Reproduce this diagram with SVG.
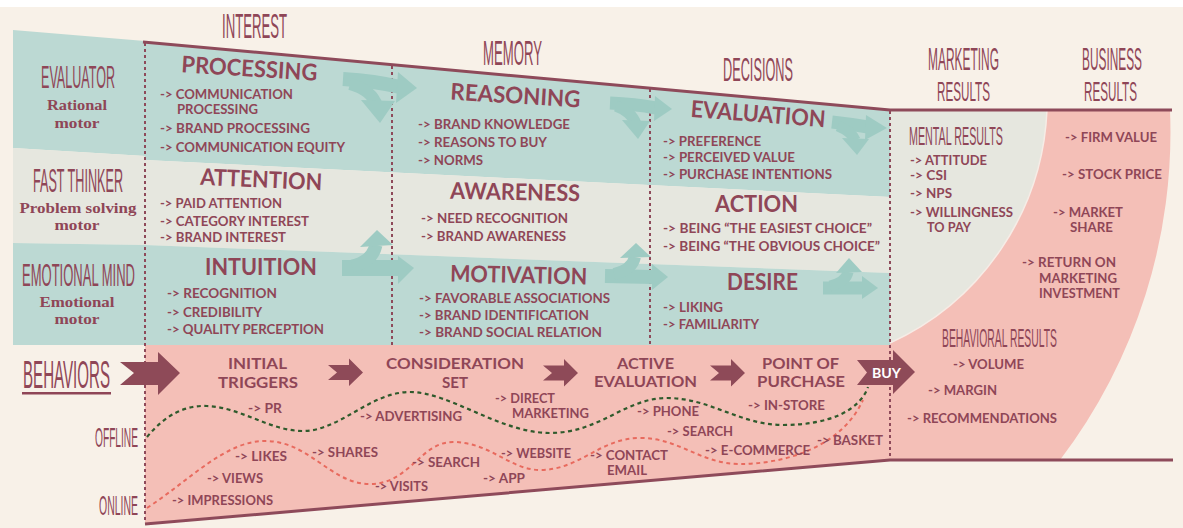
<svg xmlns="http://www.w3.org/2000/svg" width="1183" height="528" viewBox="0 0 1183 528">
<defs>
<style>
.cond{font-family:"Liberation Sans",Arial,sans-serif;fill:#8f4657}
.ser{font-family:"Liberation Serif","DejaVu Serif",serif;font-weight:700;font-size:15.2px;fill:#8f4657;text-anchor:middle}
.hd{font-size:23px}
.it{font-family:Lato,"Open Sans",sans-serif;font-weight:700;font-size:13px;fill:#8f4657}
.rs{font-size:12.5px}
.st{font-family:Lato,"Open Sans",sans-serif;font-weight:700;font-size:15.5px;fill:#8f4657;text-anchor:middle}
.bh{font-family:Lato,"Open Sans",sans-serif;font-weight:700;font-size:12.5px;fill:#8f4657}
.dots{fill:none;stroke:#8e4a5a;stroke-width:2;stroke-dasharray:3 3}
.edge{fill:none;stroke:#8e4a5a;stroke-width:3}
.tband{fill:none;stroke:#9ecbc3}
.thead{fill:#9ecbc3}
.chev{fill:#8e4a58}
.off{fill:none;stroke:#2f5a2c;stroke-width:2.2;stroke-dasharray:4 3.5}
.on{fill:none;stroke:#e86a5e;stroke-width:2;stroke-dasharray:4 3.5}
</style>
<path id="chevron" d="M0,-7.5 L21,-7.5 L21,-14 L35,0 L21,13.5 L21,7.5 L0,7.5 L9,0 Z"/>
<!-- sloped baselines for the tilted stage headings -->
<path id="base-processing" d="M149.2,70.4 L348.8,82.6"/>
<path id="base-reasoning" d="M415.2,97.4 L614.8,109.6"/>
<path id="base-evaluation" d="M657.8,114.15 L857.2,129.85"/>
<path id="base-attention" d="M161.1,183.1 L360.9,191.9"/>
<path id="base-awareness" d="M415,198.25 L615,201.75"/>
<path id="base-motivation" d="M418.5,280.7 L618.5,285.3"/>
</defs>

<!-- background -->
<rect width="1183" height="528" fill="#f8f1e8"/>
<rect width="1183" height="7" fill="#ffffff"/>

<!-- left side bands -->
<polygon points="13,30 145,41 145,156 13,148" fill="#bcd9d3"/>
<polygon points="13,148 145,156 145,245 13,243" fill="#e6e7df"/>
<polygon points="13,243 145,245 145,345 13,345" fill="#bcd9d3"/>

<!-- funnel bands -->
<polygon points="145,42 890,110 890,197 145,160" fill="#bcd9d3"/>
<polygon points="145,160 890,197 890,273 145,245" fill="#e6e7df"/>
<polygon points="145,245 890,273 890,345 145,345" fill="#bcd9d3"/>
<polygon points="145,345 890,345 890,460 145,523" fill="#f4bfb7"/>

<!-- results area -->
<path d="M890,110 L1047,110 A269,269 0 0 1 890,343 Z" fill="#e6e7df"/>
<path d="M1047,110 L1170,110 A541,541 0 0 1 1060,460 L890,460 L890,343 A269,269 0 0 0 1047,110 Z" fill="#f4bfb7"/>
<path d="M1047,110 A269,269 0 0 1 890,343" fill="none" stroke="#f6ece6" stroke-width="1.5"/>

<!-- funnel edges -->
<polyline class="edge" points="143,42 890,110 1172,110"/>
<polyline class="edge" points="145,524 890,460 1173,460"/>

<!-- column separators -->
<g id="separators">
<line class="dots" x1="145" y1="43" x2="145" y2="523"/>
<line class="dots" x1="392" y1="66" x2="392" y2="345"/>
<line class="dots" x1="650" y1="89" x2="650" y2="345"/>
<line class="dots" x1="890" y1="111" x2="890" y2="460"/>
</g>

<!-- row labels (tall condensed lettering: stretched vertically) -->
<g id="row-evaluator">
<text class="cond" font-size="15.3" text-anchor="middle" transform="translate(78,88) scale(1,2.1)" textLength="74" lengthAdjust="spacingAndGlyphs">EVALUATOR</text>
<text class="ser"><tspan x="77" y="110" textLength="60" lengthAdjust="spacingAndGlyphs">Rational</tspan><tspan x="77" y="128" textLength="45" lengthAdjust="spacingAndGlyphs">motor</tspan></text>
</g>
<g id="row-fast-thinker">
<text class="cond" font-size="15.6" text-anchor="middle" transform="translate(78,192) scale(1,2.1)" textLength="90" lengthAdjust="spacingAndGlyphs">FAST THINKER</text>
<text class="ser"><tspan x="78" y="212.5" textLength="117" lengthAdjust="spacingAndGlyphs">Problem solving</tspan><tspan x="77" y="230" textLength="45" lengthAdjust="spacingAndGlyphs">motor</tspan></text>
</g>
<g id="row-emotional-mind">
<text class="cond" font-size="15.3" text-anchor="middle" transform="translate(78.5,286) scale(1,2.1)" textLength="113" lengthAdjust="spacingAndGlyphs">EMOTIONAL MIND</text>
<text class="ser"><tspan x="77" y="306.5" textLength="75" lengthAdjust="spacingAndGlyphs">Emotional</tspan><tspan x="77" y="323.5" textLength="45" lengthAdjust="spacingAndGlyphs">motor</tspan></text>
</g>
<g id="row-behaviors">
<text class="cond" font-size="18.6" transform="translate(23,388) scale(1,2.1)" textLength="87" lengthAdjust="spacingAndGlyphs">BEHAVIORS</text>
<rect x="22" y="392" width="89" height="2.5" fill="#8f4657"/>
<text class="cond" font-size="12.7" text-anchor="end" transform="translate(138,447) scale(1,2.2)" textLength="43" lengthAdjust="spacingAndGlyphs">OFFLINE</text>
<text class="cond" font-size="13.1" text-anchor="end" transform="translate(138,515) scale(1,2.13)" textLength="39" lengthAdjust="spacingAndGlyphs">ONLINE</text>
</g>

<!-- column titles -->
<g id="col-titles">
<text class="cond" font-size="16.4" text-anchor="middle" transform="translate(254.5,38) scale(1,2.13)" textLength="65" lengthAdjust="spacingAndGlyphs">INTEREST</text>
<text class="cond" font-size="16.4" text-anchor="middle" transform="translate(512.5,65) scale(1,2.13)" textLength="59" lengthAdjust="spacingAndGlyphs">MEMORY</text>
<text class="cond" font-size="15.9" text-anchor="middle" transform="translate(758,81) scale(1,2.11)" textLength="70" lengthAdjust="spacingAndGlyphs">DECISIONS</text>
<text class="cond" font-size="14.9" text-anchor="middle" transform="translate(963.5,70) scale(1,2.06)" textLength="71" lengthAdjust="spacingAndGlyphs">MARKETING</text>
<text class="cond" font-size="14.4" text-anchor="middle" transform="translate(963.5,101.2) scale(1,1.89)" textLength="53" lengthAdjust="spacingAndGlyphs">RESULTS</text>
<text class="cond" font-size="14.8" text-anchor="middle" transform="translate(1112,70) scale(1,2.07)" textLength="60" lengthAdjust="spacingAndGlyphs">BUSINESS</text>
<text class="cond" font-size="14.4" text-anchor="middle" transform="translate(1110.5,101.2) scale(1,1.89)" textLength="53" lengthAdjust="spacingAndGlyphs">RESULTS</text>
</g>

<!-- interest column -->
<g id="node-processing">
<text class="it"><textPath class="hd" href="#base-processing" startOffset="50%" text-anchor="middle" textLength="136" lengthAdjust="spacingAndGlyphs">PROCESSING</textPath><tspan
 x="160" y="98.5" textLength="133" lengthAdjust="spacingAndGlyphs">-&gt; COMMUNICATION</tspan><tspan
 x="177" y="114.2" textLength="81" lengthAdjust="spacingAndGlyphs">PROCESSING</tspan><tspan
 x="160" y="132.5" textLength="150" lengthAdjust="spacingAndGlyphs">-&gt; BRAND PROCESSING</tspan><tspan
 x="160" y="152" textLength="185" lengthAdjust="spacingAndGlyphs">-&gt; COMMUNICATION EQUITY</tspan></text>
</g>
<g id="node-attention">
<text class="it"><textPath class="hd" href="#base-attention" startOffset="50%" text-anchor="middle" textLength="122" lengthAdjust="spacingAndGlyphs">ATTENTION</textPath><tspan
 x="160" y="208" textLength="122" lengthAdjust="spacingAndGlyphs">-&gt; PAID ATTENTION</tspan><tspan
 x="160" y="225.5" textLength="149" lengthAdjust="spacingAndGlyphs">-&gt; CATEGORY INTEREST</tspan><tspan
 x="160" y="242" textLength="126" lengthAdjust="spacingAndGlyphs">-&gt; BRAND INTEREST</tspan></text>
</g>
<g id="node-intuition">
<text class="it"><tspan class="hd" x="261" y="275" text-anchor="middle" textLength="112" lengthAdjust="spacingAndGlyphs">INTUITION</tspan><tspan
 x="167" y="298" textLength="110" lengthAdjust="spacingAndGlyphs">-&gt; RECOGNITION</tspan><tspan
 x="167" y="317" textLength="95" lengthAdjust="spacingAndGlyphs">-&gt; CREDIBILITY</tspan><tspan
 x="167" y="334" textLength="157" lengthAdjust="spacingAndGlyphs">-&gt; QUALITY PERCEPTION</tspan></text>
</g>

<!-- memory column -->
<g id="node-reasoning">
<text class="it"><textPath class="hd" href="#base-reasoning" startOffset="50%" text-anchor="middle" textLength="130" lengthAdjust="spacingAndGlyphs">REASONING</textPath><tspan
 x="418" y="129" textLength="152" lengthAdjust="spacingAndGlyphs">-&gt; BRAND KNOWLEDGE</tspan><tspan
 x="418" y="147" textLength="129" lengthAdjust="spacingAndGlyphs">-&gt; REASONS TO BUY</tspan><tspan
 x="418" y="165" textLength="65" lengthAdjust="spacingAndGlyphs">-&gt; NORMS</tspan></text>
</g>
<g id="node-awareness">
<text class="it"><textPath class="hd" href="#base-awareness" startOffset="50%" text-anchor="middle" textLength="130" lengthAdjust="spacingAndGlyphs">AWARENESS</textPath><tspan
 x="421" y="223" textLength="147" lengthAdjust="spacingAndGlyphs">-&gt; NEED RECOGNITION</tspan><tspan
 x="421" y="241" textLength="145" lengthAdjust="spacingAndGlyphs">-&gt; BRAND AWARENESS</tspan></text>
</g>
<g id="node-motivation">
<text class="it"><textPath class="hd" href="#base-motivation" startOffset="50%" text-anchor="middle" textLength="137" lengthAdjust="spacingAndGlyphs">MOTIVATION</textPath><tspan
 x="419" y="302.5" textLength="191" lengthAdjust="spacingAndGlyphs">-&gt; FAVORABLE ASSOCIATIONS</tspan><tspan
 x="419" y="319.5" textLength="170" lengthAdjust="spacingAndGlyphs">-&gt; BRAND IDENTIFICATION</tspan><tspan
 x="419" y="337" textLength="183" lengthAdjust="spacingAndGlyphs">-&gt; BRAND SOCIAL RELATION</tspan></text>
</g>

<!-- decisions column -->
<g id="node-evaluation">
<text class="it"><textPath class="hd" href="#base-evaluation" startOffset="50%" text-anchor="middle" textLength="135" lengthAdjust="spacingAndGlyphs">EVALUATION</textPath><tspan
 x="663" y="145.5" textLength="98" lengthAdjust="spacingAndGlyphs">-&gt; PREFERENCE</tspan><tspan
 x="663" y="162" textLength="132" lengthAdjust="spacingAndGlyphs">-&gt; PERCEIVED VALUE</tspan><tspan
 x="663" y="179" textLength="169" lengthAdjust="spacingAndGlyphs">-&gt; PURCHASE INTENTIONS</tspan></text>
</g>
<g id="node-action">
<text class="it"><tspan class="hd" x="756.5" y="212" text-anchor="middle" textLength="83" lengthAdjust="spacingAndGlyphs">ACTION</tspan><tspan
 x="663" y="233" textLength="209" lengthAdjust="spacingAndGlyphs">-&gt; BEING “THE EASIEST CHOICE”</tspan><tspan
 x="663" y="251" textLength="217" lengthAdjust="spacingAndGlyphs">-&gt; BEING “THE OBVIOUS CHOICE”</tspan></text>
</g>
<g id="node-desire">
<text class="it"><tspan class="hd" x="762.5" y="290" text-anchor="middle" textLength="71" lengthAdjust="spacingAndGlyphs">DESIRE</tspan><tspan
 x="663" y="312" textLength="60" lengthAdjust="spacingAndGlyphs">-&gt; LIKING</tspan><tspan
 x="663" y="329" textLength="96" lengthAdjust="spacingAndGlyphs">-&gt; FAMILIARITY</tspan></text>
</g>

<!-- results -->
<g id="node-mental-results">
<text class="cond" font-size="12.5" transform="translate(909,145) scale(1,2)" textLength="94" lengthAdjust="spacingAndGlyphs">MENTAL RESULTS</text>
<text class="it rs"><tspan x="910" y="165" textLength="77" lengthAdjust="spacingAndGlyphs">-&gt; ATTITUDE</tspan><tspan
 x="910" y="180.2" textLength="37" lengthAdjust="spacingAndGlyphs">-&gt; CSI</tspan><tspan
 x="910" y="198" textLength="42" lengthAdjust="spacingAndGlyphs">-&gt; NPS</tspan><tspan
 x="910" y="216.5" textLength="103" lengthAdjust="spacingAndGlyphs">-&gt; WILLINGNESS</tspan><tspan
 x="927" y="231.7" textLength="44" lengthAdjust="spacingAndGlyphs">TO PAY</tspan></text>
</g>
<g id="node-business-results">
<text class="it rs"><tspan x="1065" y="142" textLength="92" lengthAdjust="spacingAndGlyphs">-&gt; FIRM VALUE</tspan><tspan
 x="1062" y="179" textLength="100" lengthAdjust="spacingAndGlyphs">-&gt; STOCK PRICE</tspan><tspan
 x="1053" y="217" textLength="70" lengthAdjust="spacingAndGlyphs">-&gt; MARKET</tspan><tspan
 x="1070" y="232.2" textLength="43" lengthAdjust="spacingAndGlyphs">SHARE</tspan><tspan
 x="1022" y="267.3" textLength="94" lengthAdjust="spacingAndGlyphs">-&gt; RETURN ON</tspan><tspan
 x="1039" y="282.5" textLength="78" lengthAdjust="spacingAndGlyphs">MARKETING</tspan><tspan
 x="1039" y="297.7" textLength="81" lengthAdjust="spacingAndGlyphs">INVESTMENT</tspan></text>
</g>
<g id="node-behavioral-results">
<text class="cond" font-size="12.7" transform="translate(942,347) scale(1,2.09)" textLength="115" lengthAdjust="spacingAndGlyphs">BEHAVIORAL RESULTS</text>
<text class="it rs"><tspan x="953" y="369" textLength="71" lengthAdjust="spacingAndGlyphs">-&gt; VOLUME</tspan><tspan
 x="928" y="395" textLength="69" lengthAdjust="spacingAndGlyphs">-&gt; MARGIN</tspan><tspan
 x="907" y="423" textLength="150" lengthAdjust="spacingAndGlyphs">-&gt; RECOMMENDATIONS</tspan></text>
</g>

<!-- connectors: teal flow arrows, stage chevrons, touchpoint paths -->
<g id="connectors">
<g id="flow-processing-reasoning">
<path class="tband" stroke-width="14" d="M343,79 Q375,81 400,87"/>
<polygon class="thead" points="398,72 417,88 396,103"/>
<path class="tband" stroke-width="12" d="M350,84 Q372,90 377,106"/>
<polygon class="thead" points="361,100 395,101 380,123"/>
</g>
<g id="flow-reasoning-evaluation">
<path class="tband" stroke-width="13" d="M610,103 Q635,104 656,108"/>
<polygon class="thead" points="655,96 672,109 654,121"/>
<path class="tband" stroke-width="11" d="M616,106 Q632,112 636,124"/>
<polygon class="thead" points="622,120 650,121 638,139"/>
</g>
<g id="flow-evaluation-results">
<path class="tband" stroke-width="13" d="M832,122 Q850,124 868,127"/>
<polygon class="thead" points="866,115 887,128 865,140"/>
<path class="tband" stroke-width="11" d="M838,126 Q852,132 855,140"/>
<polygon class="thead" points="842,138 869,139 857,155"/>
</g>
<g id="flow-intuition-motivation">
<path class="tband" stroke-width="16" d="M342,268 L399,268"/>
<polygon class="thead" points="398,256 414,268 398,284"/>
<path class="tband" stroke-width="13" d="M352,266 Q372,262 376,245"/>
<polygon class="thead" points="360,247 377,230 393,245"/>
</g>
<g id="flow-motivation-desire">
<path class="tband" stroke-width="14" d="M605,276 L653,277"/>
<polygon class="thead" points="652,264 668,277 652,290"/>
<path class="tband" stroke-width="12" d="M614,274 Q632,270 635,257"/>
<polygon class="thead" points="620,258 636,243 651,257"/>
</g>
<g id="flow-desire-results">
<path class="tband" stroke-width="13" d="M823,288 L863,288"/>
<polygon class="thead" points="862,276 878,288 862,299"/>
<path class="tband" stroke-width="11" d="M830,286 Q846,282 848,272"/>
<polygon class="thead" points="836,273 849,258 862,272"/>
</g>

<path class="off" d="M147,437 C165,415 185,405 207,406 C240,407 270,431 303,431 C340,431 370,392 410,392 C450,392 500,433 550,433 C600,433 625,398 667,398 C710,398 740,425 783,425 C830,425 860,410 868,387"/>
<path class="on" d="M147,508 C190,480 225,441 265,441 C310,441 330,484 370,484 C410,484 420,442 453,442 C490,442 510,470 540,470 C580,470 600,438 640,438 C680,438 700,464 740,464 C780,464 840,450 863,400"/>

<path class="chev" d="M120,362 L158,362 L158,352 L180,373 L158,395 L158,385 L120,385 L134,373 Z"/>
<use href="#chevron" class="chev" transform="translate(328,372.5)"/>
<use href="#chevron" class="chev" transform="translate(543,373)"/>
<use href="#chevron" class="chev" transform="translate(710,373)"/>
<path class="chev" d="M857,360 L893,360 L893,350 L915,372 L893,394 L893,385 L857,385 L867,372.5 Z"/>
</g>

<!-- behavior stages -->
<g id="stage-initial-triggers">
<text class="st"><tspan x="257.5" y="369" textLength="59" lengthAdjust="spacingAndGlyphs">INITIAL</tspan><tspan x="258" y="387.7" textLength="80" lengthAdjust="spacingAndGlyphs">TRIGGERS</tspan></text>
</g>
<g id="stage-consideration-set">
<text class="st"><tspan x="455" y="369" textLength="138" lengthAdjust="spacingAndGlyphs">CONSIDERATION</tspan><tspan x="455" y="387.7" textLength="26" lengthAdjust="spacingAndGlyphs">SET</tspan></text>
</g>
<g id="stage-active-evaluation">
<text class="st"><tspan x="645.5" y="368.5" textLength="57" lengthAdjust="spacingAndGlyphs">ACTIVE</tspan><tspan x="645.5" y="387.2" textLength="103" lengthAdjust="spacingAndGlyphs">EVALUATION</tspan></text>
</g>
<g id="stage-point-of-purchase">
<text class="st"><tspan x="800.5" y="368.5" textLength="77" lengthAdjust="spacingAndGlyphs">POINT OF</tspan><tspan x="801" y="387.2" textLength="88" lengthAdjust="spacingAndGlyphs">PURCHASE</tspan></text>
</g>
<g id="stage-buy">
<text x="886.5" y="377.5" font-family="Lato, 'Open Sans', sans-serif" font-weight="700" font-size="14" fill="#ffffff" text-anchor="middle" textLength="29" lengthAdjust="spacingAndGlyphs">BUY</text>
</g>

<!-- offline touchpoints -->
<g id="touchpoints-offline">
<text class="bh" x="248" y="413" textLength="34" lengthAdjust="spacingAndGlyphs">-&gt; PR</text>
<text class="bh" x="360" y="421" textLength="102" lengthAdjust="spacingAndGlyphs">-&gt; ADVERTISING</text>
<text class="bh"><tspan x="495" y="403" textLength="60" lengthAdjust="spacingAndGlyphs">-&gt; DIRECT</tspan><tspan x="512" y="418.2" textLength="77" lengthAdjust="spacingAndGlyphs">MARKETING</tspan></text>
<text class="bh" x="637" y="416" textLength="62" lengthAdjust="spacingAndGlyphs">-&gt; PHONE</text>
<text class="bh" x="748" y="410" textLength="77" lengthAdjust="spacingAndGlyphs">-&gt; IN-STORE</text>
</g>
<!-- online touchpoints -->
<g id="touchpoints-online">
<text class="bh" x="172" y="505" textLength="101" lengthAdjust="spacingAndGlyphs">-&gt; IMPRESSIONS</text>
<text class="bh" x="207" y="483" textLength="56" lengthAdjust="spacingAndGlyphs">-&gt; VIEWS</text>
<text class="bh" x="235" y="461" textLength="52" lengthAdjust="spacingAndGlyphs">-&gt; LIKES</text>
<text class="bh" x="312" y="457" textLength="66" lengthAdjust="spacingAndGlyphs">-&gt; SHARES</text>
<text class="bh" x="412" y="467" textLength="68" lengthAdjust="spacingAndGlyphs">-&gt; SEARCH</text>
<text class="bh" x="375" y="491" textLength="53" lengthAdjust="spacingAndGlyphs">-&gt; VISITS</text>
<text class="bh" x="483" y="483" textLength="42" lengthAdjust="spacingAndGlyphs">-&gt; APP</text>
<text class="bh" x="501" y="458" textLength="70" lengthAdjust="spacingAndGlyphs">-&gt; WEBSITE</text>
<text class="bh"><tspan x="590" y="460" textLength="78" lengthAdjust="spacingAndGlyphs">-&gt; CONTACT</tspan><tspan x="607" y="475.2" textLength="40" lengthAdjust="spacingAndGlyphs">EMAIL</tspan></text>
<text class="bh" x="667" y="436" textLength="66" lengthAdjust="spacingAndGlyphs">-&gt; SEARCH</text>
<text class="bh" x="705" y="455" textLength="105" lengthAdjust="spacingAndGlyphs">-&gt; E-COMMERCE</text>
<text class="bh" x="817" y="445" textLength="66" lengthAdjust="spacingAndGlyphs">-&gt; BASKET</text>
</g>
</svg>
